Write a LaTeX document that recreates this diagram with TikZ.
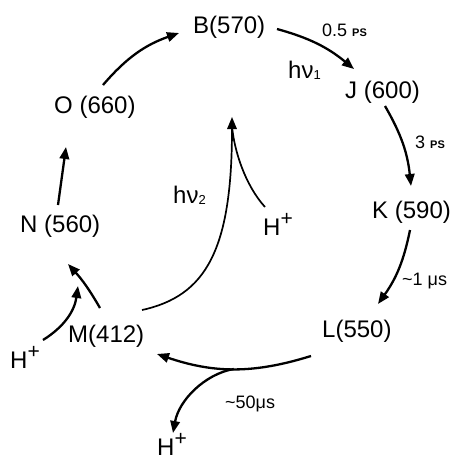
\documentclass[tikz,border=0pt]{standalone}
\usepackage{fontspec}
\setmainfont{Liberation Sans}
\usetikzlibrary{arrows.meta,calc}
\newcommand\Hplus{H\raisebox{10pt}{\fontsize{21}{21}\selectfont +}}
\newcommand\smallps{{\fontsize{11}{11}\selectfont\bfseries PS}}
\begin{document}
\begin{tikzpicture}[x=1pt,y=-1pt,
  lbl/.style={inner sep=0pt, anchor=base west, font=\fontsize{24}{24}\selectfont},
  tlbl/.style={inner sep=0pt, anchor=base west, font=\fontsize{18}{18}\selectfont},
  arr/.style={line width=2.3pt, -{Triangle[length=12pt,width=9.5pt]}},
  arrthin/.style={line width=1.7pt, -{Triangle[length=12pt,width=9.5pt]}},
  plainthin/.style={line width=1.7pt}]
\useasboundingbox (0,0) rectangle (453,461);
% states
\node[lbl] (B) at (193,33) {B(570)};
\node[lbl] (J) at (345,98) {J (600)};
\node[lbl] (K) at (372,218) {K (590)};
\node[lbl] (L) at (322,337) {L(550)};
\node[lbl] (M) at (68,342) {M(412)};
\node[lbl] (N) at (20,232) {N (560)};
\node[lbl] (O) at (54,113) {O (660)};
% protons
\node[lbl] (H1) at (10,368) {\Hplus};
\node[lbl] (H2) at (263,235) {\Hplus};
\node[lbl] (H3) at (157,455) {\Hplus};
% photons
\node[lbl] (hv1) at (288,78) {hν\raisebox{-1pt}{\fontsize{13}{13}\selectfont 1}};
\node[lbl] (hv2) at (173,203) {hν\raisebox{-1pt}{\fontsize{13}{13}\selectfont 2}};
% times
\node[tlbl] (t1) at (322,36) {0.5 \smallps};
\node[tlbl] (t2) at (415,148) {3 \smallps};
\node[tlbl] (t3) at (402,285) {\textasciitilde1 μs};
\node[tlbl] (t4) at (225,408) {\textasciitilde50μs};
% connector end points
\coordinate (oB1) at (103,85);  \coordinate (oB2) at (179,33);
\coordinate (bJ1) at (277,29);  \coordinate (bJ2) at (354,69);
\coordinate (jK1) at (385,106); \coordinate (jK2) at (411,186);
\coordinate (kL1) at (410,230); \coordinate (kL2) at (378,304);
\coordinate (lM1) at (311,356); \coordinate (lM2) at (157,354);
\coordinate (brH) at (173,433);
\coordinate (mT1) at (142,310); \coordinate (top) at (232,117);
\coordinate (hT1) at (265,207); \coordinate (hT2) at (232,126);
\coordinate (mN1) at (100,308); \coordinate (mN2) at (68,264);
\coordinate (hN1) at (43,340);  \coordinate (hN2) at (78,286);
\coordinate (nO1) at (58,205);  \coordinate (nO2) at (66,147);
% connectors
\draw[arr] (oB1) to[bend left=15] (oB2);
\draw[arr] (bJ1) to[bend left=12] (bJ2);
\draw[arr] (jK1) to[bend left=12] (jK2);
\draw[arr] (kL1) to[bend left=12] (kL2);
\draw[arr] (lM1) to[bend left=18] coordinate[pos=0.5] (br) (lM2);
\draw[arr] (br) .. controls (205,374) and (179,400) .. (brH);
\draw[arrthin] (mT1) .. controls (206,296) and (232,250) .. (top);
\draw[plainthin] (hT1) .. controls (245,185) and (234,150) .. (hT2);
\draw[arr] (mN1) to[bend right=6] (mN2);
\draw[arr] (hN1) to[bend right=25] (hN2);
\draw[arr] (nO1) -- (nO2);
\end{tikzpicture}
\end{document}
